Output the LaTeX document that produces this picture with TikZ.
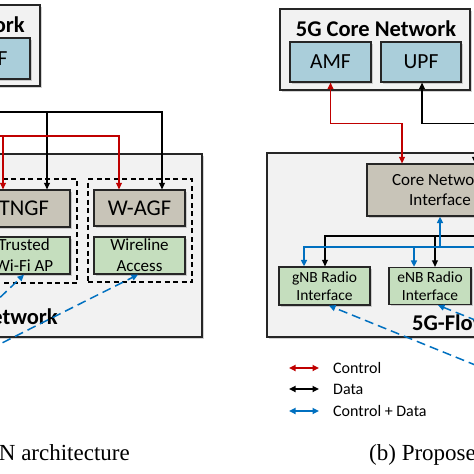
\documentclass[tikz,border=0pt]{standalone}
\usepackage{fontspec}
\setmainfont{Liberation Serif}
\newfontfamily\calib{Carlito}
\usetikzlibrary{arrows.meta,shadows}
\definecolor{ctlred}{RGB}{192,0,0}
\definecolor{cdblue}{RGB}{0,112,192}
\definecolor{bluefill}{RGB}{170,206,218}
\definecolor{grayfill}{RGB}{200,196,184}
\definecolor{greenfill}{RGB}{197,222,190}
\definecolor{outerfill}{RGB}{242,242,242}
\begin{document}
\begin{tikzpicture}[x=1pt,y=-1pt,font=\calib,
  pbox/.style={draw=black!85,line width=1.3pt,inner sep=0pt,align=center,
    drop shadow={shadow xshift=1.8pt,shadow yshift=-1.8pt,opacity=0.35}},
  outerbox/.style={pbox,fill=outerfill},
  corebox/.style={pbox,fill=bluefill,font=\calib\fontsize{21.5}{24}\selectfont},
  gwbox/.style={pbox,fill=grayfill,font=\calib\fontsize{22.5}{25}\selectfont},
  cnibox/.style={pbox,fill=grayfill,font=\calib\fontsize{17}{20}\selectfont},
  accbox/.style={pbox,fill=greenfill,font=\calib\fontsize{17}{21}\selectfont},
  radbox/.style={pbox,fill=greenfill,font=\calib\fontsize{15.5}{18}\selectfont},
  dashbox/.style={draw=black,line width=1.3pt,dash pattern=on 5pt off 3.5pt,inner sep=0pt},
  title/.style={font=\calib\bfseries\fontsize{22.5}{25}\selectfont,inner sep=0pt},
  tip/.style={-{Triangle[length=6.5pt,width=6pt]}},
  dtip/.style={{Triangle[length=6.5pt,width=6pt]}-{Triangle[length=6.5pt,width=6pt]}},
  ctl/.style={ctlred,line width=1.2pt},
  dat/.style={black,line width=1.2pt},
  cd/.style={cdblue,line width=1.5pt},
  cdd/.style={cdblue,line width=1.5pt,dash pattern=on 9pt off 5pt},
  legtext/.style={font=\calib\fontsize{16}{19}\selectfont,anchor=west,inner sep=0pt},
  caption/.style={font=\fontsize{23}{26}\selectfont,inner sep=0pt}
]
\useasboundingbox (0,0) rectangle (474,474);

% ---------- left: (a) ----------
\node[outerbox,minimum width=100pt,minimum height=81pt] (lcore) at (-10,45.5) {};
\node[title,anchor=east] (lcoretitle) at (25,25) {5G Core Network};
\node[corebox,minimum width=80pt,minimum height=41pt] (lupf) at (-10,58.5) {UPF};

\node[outerbox,minimum width=262pt,minimum height=183pt] (lan) at (71,245.5) {};
\node[title,anchor=east] (lantitle) at (58,317) {Access Network};

\node[dashbox,minimum width=107pt,minimum height=104pt] (dbox1) at (23.5,231) {};
\node[dashbox,minimum width=104pt,minimum height=103pt] (dbox2) at (140,230.5) {};

\node[gwbox,minimum width=92pt,minimum height=37pt] (tngf) at (24,208.5) {TNGF};
\node[gwbox,minimum width=91pt,minimum height=36pt] (wagf) at (139.5,208) {W-AGF};
\node[accbox,minimum width=92pt,minimum height=37pt] (wifi) at (24,255.5) {Trusted\\Wi-Fi AP};
\node[accbox,minimum width=91pt,minimum height=37pt] (wire) at (139.5,255.5) {Wireline\\Access};

\coordinate (lsrcD) at (-10,112);
\coordinate (lsrcC) at (-10,136);
\draw[dat,tip] (lsrcD) -| ([xshift=22.5pt]wagf.north);
\draw[dat,tip] ([xshift=23pt]tngf.north |- lsrcD) -- ([xshift=23pt]tngf.north);
\draw[ctl,tip] (lsrcC) -| ([xshift=-20.5pt]wagf.north);
\draw[ctl,tip] ([xshift=-21pt]tngf.north |- lsrcC) -- ([xshift=-21pt]tngf.north);

\coordinate (ue3) at (-10,307);
\coordinate (ue4) at (-10,349);
\draw[cdd,tip] (ue3) -- (wifi.south);
\draw[cdd,tip] (ue4) -- ([xshift=-1.5pt]wire.south);

\node[caption,anchor=base east] (capa) at (130,460) {RAN architecture};

% ---------- right: (b) ----------
\node[outerbox,minimum width=190pt,minimum height=81pt] (rcore) at (375,49.5) {};
\node[title] (rcoretitle) at (376,29) {5G Core Network};
\node[corebox,minimum width=81pt,minimum height=40pt] (amf) at (330.5,62) {AMF};
\node[corebox,minimum width=80pt,minimum height=40pt] (upf) at (421,62) {UPF};

\node[outerbox,minimum width=273pt,minimum height=184pt] (flow) at (403.5,245) {};
\node[title,anchor=west] (flowtitle) at (412,323) {5G-Flow RAN};

\node[cnibox,minimum width=146pt,minimum height=52pt] (cni) at (440,190) {Core Network\\Interface};
\node[radbox,minimum width=91pt,minimum height=38pt] (gnb) at (324.5,286) {gNB Radio\\Interface};
\node[radbox,minimum width=82pt,minimum height=37pt] (enb) at (430,286) {eNB Radio\\Interface};

\draw[ctl,dtip] (amf.south) -- ++(0,41) -| ([xshift=-38pt]cni.north);
\draw[dat,dtip] ([xshift=1pt]upf.south) -- ++(0,41) -| ([xshift=35pt]cni.north);

\coordinate (rD) at (490,236);
\coordinate (rB) at (490,247);
\draw[dat,tip] (rD) -| ([xshift=0.5pt]gnb.north);
\draw[dat,tip] ([xshift=5pt]enb.north |- rD) -- ([xshift=5pt]enb.north);
\draw[cd,tip] (rB) -| ([xshift=-20.5pt]gnb.north);
\draw[cd,tip] ([xshift=-16pt]enb.north |- rB) -- ([xshift=-16pt]enb.north);
\draw[cd,tip] (cni.south |- rB) -- (cni.south);

\coordinate (ue1) at (490,371);
\coordinate (ue2) at (490,326);
\draw[cdd,tip] (ue1) -- ([xshift=4.5pt]gnb.south);
\draw[cdd,tip] (ue2) -- ([xshift=8pt]enb.south);

% legend
\coordinate (lc1) at (289,368); \coordinate (lc2) at (319,368);
\coordinate (ld1) at (289,389); \coordinate (ld2) at (319,389);
\coordinate (lb1) at (289,411); \coordinate (lb2) at (319,411);
\draw[ctl,line width=2pt,dtip] (lc1) -- (lc2);
\draw[dat,line width=2pt,dtip] (ld1) -- (ld2);
\draw[cd,line width=2pt,dtip] (lb1) -- (lb2);
\node[legtext] (ltc) at (333,368) {Control};
\node[legtext] (ltd) at (333,389) {Data};
\node[legtext] (ltb) at (333,411) {Control + Data};

\node[caption,anchor=base west] (capb) at (369,460) {(b) Proposed 5G-Flow RAN architecture};
\end{tikzpicture}
\end{document}
